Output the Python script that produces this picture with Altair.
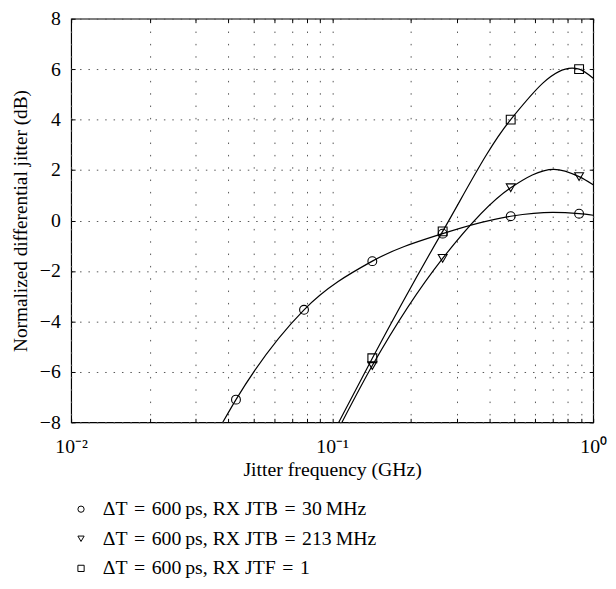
import altair as alt
import pandas as pd

# ---- series labels ----
S1 = "ΔT\u2004=\u2004600\u2009ps, RX JTB\u2004=\u200430\u2009MHz"
S2 = "ΔT\u2004=\u2004600\u2009ps, RX JTB\u2004=\u2004213\u2009MHz"
S3 = "ΔT\u2004=\u2004600\u2009ps, RX JTF\u2004=\u20041"
series_names = [S1, S2, S3]
series_shapes = ["circle", "triangle-down", "square"]

# ---- marker values (GHz, dB) ----
marker_freq = [0.0428, 0.078, 0.1425, 0.265, 0.483, 0.883]
circ_vals = [-7.1, -3.54, -1.61, -0.52, 0.17, 0.27]
tri_freq = [0.1425, 0.265, 0.483, 0.883]
tri_vals = [-5.75, -1.5, 1.30, 1.74]
sq_freq = [0.1425, 0.265, 0.483, 0.883]
sq_vals = [-5.46, -0.43, 4.0, 6.0]

# ---- curve knots ----
circ_curve_f = [0.0381, 0.0428, 0.078, 0.1425, 0.265, 0.483, 0.70, 0.883, 1.0]
circ_curve_v = [-8.0, -7.1, -3.54, -1.61, -0.52, 0.17, 0.32, 0.27, 0.21]
tri_curve_f = [0.109, 0.1425, 0.265, 0.483, 0.707, 0.883, 1.0]
tri_curve_v = [-8.0, -5.75, -1.5, 1.30, 2.03, 1.74, 1.42]
sq_curve_f = [0.106, 0.1425, 0.265, 0.483, 0.83, 0.883, 1.0]
sq_curve_v = [-8.0, -5.46, -0.43, 4.0, 6.04, 6.0, 5.64]

# ---- axis ticks ----
x_ticks = [0.01, 0.02, 0.03, 0.04, 0.05, 0.06, 0.07, 0.08, 0.09,
           0.1, 0.2, 0.3, 0.4, 0.5, 0.6, 0.7, 0.8, 0.9, 1.0]
y_ticks = [-8, -6, -4, -2, 0, 2, 4, 6, 8]

curves = pd.concat([
    pd.DataFrame({"f": circ_curve_f, "v": circ_curve_v, "s": S1}),
    pd.DataFrame({"f": tri_curve_f, "v": tri_curve_v, "s": S2}),
    pd.DataFrame({"f": sq_curve_f, "v": sq_curve_v, "s": S3}),
])
markers = pd.concat([
    pd.DataFrame({"f": marker_freq, "v": circ_vals, "s": S1}),
    pd.DataFrame({"f": tri_freq, "v": tri_vals, "s": S2}),
    pd.DataFrame({"f": sq_freq, "v": sq_vals, "s": S3}),
])

W, H = 529, 409
FONT = "Liberation Serif"

xscale = alt.Scale(type="log", domain=[0.01, 1], nice=False)
yscale = alt.Scale(domain=[-8, 8], nice=False, zero=False)

x_main = alt.Axis(
    values=x_ticks,
    labelExpr="datum.value == 0.01 ? '10⁻²' : datum.value == 0.1 ? '10⁻¹' : datum.value == 1 ? '10⁰' : ''",
    grid=True, gridDash=[1.5, 11], gridColor="#555", gridWidth=1,
    ticks=False, domain=False, labelOverlap=False, labelFlush=False,
    labelFont=FONT, labelFontSize=20, labelColor="black", labelPadding=15,
    title="Jitter frequency (GHz)", titleFont=FONT, titleFontSize=20,
    titleFontWeight="normal", titleColor="black", titlePadding=3,
)
y_main = alt.Axis(
    values=y_ticks,
    grid=True, gridDash=[1.5, 7], gridColor="#555", gridWidth=1,
    ticks=False, domain=False, labelOverlap=False,
    labelFont=FONT, labelFontSize=20, labelColor="black", labelPadding=11,
    title="Normalized differential jitter (dB)", titleFont=FONT, titleFontSize=19.5,
    titleFontWeight="normal", titleColor="black", titlePadding=9,
)


def tick_axis(vals, orient, offset):
    return alt.Axis(values=vals, orient=orient, offset=offset, labels=False,
                    domain=False, grid=False, ticks=True, tickSize=4,
                    tickColor="black", tickWidth=1, title=None)


lines = alt.Chart(curves).mark_line(
    interpolate="monotone", color="black", strokeWidth=1.2
).encode(
    x=alt.X("f:Q", scale=xscale, axis=x_main),
    y=alt.Y("v:Q", scale=yscale, axis=y_main),
    detail="s:N",
)

points = alt.Chart(markers).mark_point(
    filled=False, color="black", strokeWidth=1.1, size=80, opacity=1
).encode(
    x=alt.X("f:Q", scale=xscale, axis=tick_axis(x_ticks, "top", -H)),
    y=alt.Y("v:Q", scale=yscale, axis=tick_axis(y_ticks, "left", -W)),
    shape=alt.Shape(
        "s:N",
        scale=alt.Scale(domain=series_names, range=series_shapes),
        sort=series_names,
        legend=alt.Legend(
            orient="none", legendX=0, legendY=487, direction="vertical",
            title=None, labelFont=FONT, labelFontSize=20, labelColor="black",
            symbolSize=40, symbolStrokeColor="black", symbolStrokeWidth=1,
            symbolFillColor="transparent", rowPadding=10, labelOffset=12,
            padding=0, labelLimit=0,
        ),
    ),
)

dummy = alt.Chart(markers).mark_point(opacity=0).encode(
    x=alt.X("f:Q", scale=xscale, axis=tick_axis(x_ticks, "bottom", -H)),
    y=alt.Y("v:Q", scale=yscale, axis=tick_axis(y_ticks, "right", -W)),
)

chart = alt.layer(lines, points, dummy).resolve_axis(
    x="independent", y="independent"
).properties(
    width=W, height=H,
    autosize=alt.AutoSizeParams(type="none"),
    padding={"left": 64, "top": 7, "right": 15, "bottom": 162},
).configure_view(stroke="black", strokeWidth=1.2)

chart.save("out.html", embed_options={"renderer": "svg", "actions": False})
